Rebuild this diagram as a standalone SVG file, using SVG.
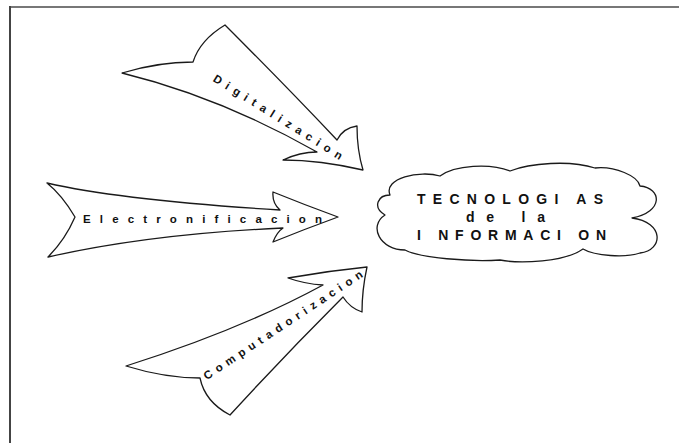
<svg xmlns="http://www.w3.org/2000/svg" width="679" height="443" viewBox="0 0 679 443">
<style>
.shape{fill:#fff;stroke:#1a1a1a;stroke-width:1.3;stroke-linejoin:round}
.lbl{font-family:"Liberation Sans",Arial,sans-serif;font-weight:bold;fill:#111}
.small{font-size:11.5px}
.big{font-size:14px}
</style>
<rect width="679" height="443" fill="#fff"/>
<g id="frame" stroke-width="2" fill="none">
<line x1="10" y1="7" x2="679" y2="7" stroke="#777"/>
<line x1="10" y1="6" x2="10" y2="443" stroke="#444"/>
</g>
<g id="connectors">
<g id="arrow-digitalizacion">
<path class="shape" d="M122,73 C145,66 170,62 193,62 Q200,40 225,25 Q285,85 337,140 Q343,128 357,126 Q357,150 363,170 Q320,160 283,160 Q300,152 317,152 Q220,97 122,73 Z"/>
<text class="lbl small" x="0" y="0" text-anchor="middle" dy="4" textLength="150" lengthAdjust="spacing" transform="translate(278,117) rotate(32)">Digitalizacion</text>
</g>
<g id="arrow-electronificacion">
<path class="shape" d="M47,183 Q120,200 280,210 Q272,203 273,192 Q305,205 338,217 Q305,229 273,242 Q277,232 283,228 Q150,234 48,257 Q65,240 75,217 Q62,195 47,183 Z"/>
<text class="lbl small" x="202.5" y="222.5" text-anchor="middle" textLength="239" lengthAdjust="spacing">Electronificacion</text>
</g>
<g id="arrow-computadorizacion">
<path class="shape" d="M367,267 Q327,271 288,278 Q305,284 323,285 Q240,330 126,366 Q165,378 200,378 Q205,402 230,415 Q285,355 343,297 Q350,308 362,312 Q362,290 367,267 Z"/>
<text class="lbl small" x="0" y="0" text-anchor="middle" dy="4" textLength="188" lengthAdjust="spacing" transform="translate(283,325) rotate(-33.5)">Computadorizacion</text>
</g>
</g>
<g id="tecnologias">
<path class="shape" d="M390,195 C383,178 420,170 440,176 C455,165 490,163 510,171 C530,163 570,160 595,168 C615,166 638,176 640,186 C662,188 664,212 632,218 C664,222 664,250 640,253 C625,258 595,256 583,249 C565,262 520,264 500,260 C470,262 420,258 405,250 C380,250 368,226 385,215 C372,207 378,195 390,195 Z"/>
<text class="lbl big" x="417" y="203.5" textLength="186" lengthAdjust="spacing">TECNOLOGI AS</text>
<text class="lbl big" x="466" y="222" textLength="79" lengthAdjust="spacing">de la</text>
<text class="lbl big" x="417" y="239.5" textLength="189" lengthAdjust="spacing">I NFORMACI ON</text>
</g>
</svg>
